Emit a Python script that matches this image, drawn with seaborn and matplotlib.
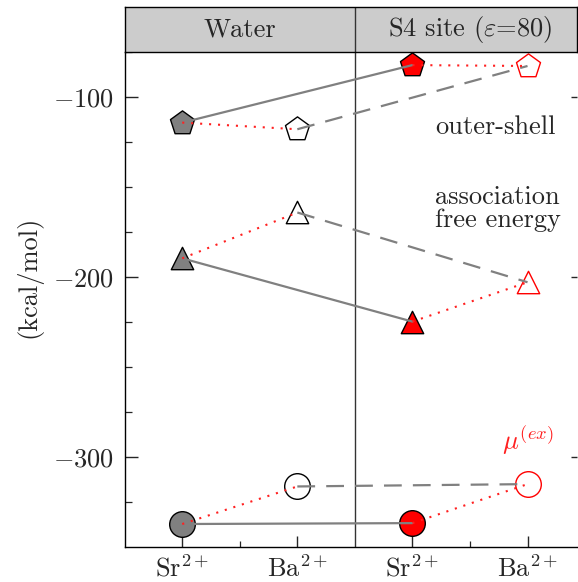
import matplotlib
matplotlib.use("Agg")
import matplotlib.pyplot as plt
import seaborn as sns
import pandas as pd

# ---- data ----
positions = [0, 1, 2, 3]
categories = [r"Sr$^{2+}$", r"Ba$^{2+}$", r"Sr$^{2+}$", r"Ba$^{2+}$"]
panels = ["Water", r"S4 site ($\varepsilon$=80)"]
panel_centers = [0.5, 2.5]
outer_shell = [-114.1, -117.8, -82.1, -82.6]
association = [-189.6, -164.1, -224.8, -202.9]
mu_ex = [-337.4, -316.5, -336.9, -315.2]
yticks = [-100, -200, -300]
ytick_labels = [r"$-100$", r"$-200$", r"$-300$"]

sns.set_style("ticks")
plt.rcParams["font.family"] = "serif"
plt.rcParams["font.serif"] = ["cmr10", "DejaVu Serif"]
plt.rcParams["mathtext.fontset"] = "cm"
plt.rcParams["axes.formatter.use_mathtext"] = True
plt.rcParams["axes.unicode_minus"] = False

FS = 19
fig = plt.figure(figsize=(5.78, 5.82), dpi=100)
ax = fig.add_axes([0.2157, 0.0607, 0.7826, 0.8494])
hax = fig.add_axes([0.2157, 0.9101, 0.7826, 0.0774])

XL = (-0.5, 3.43)

series = [
    (outer_shell, "p", 330),
    (association, "^", 260),
    (mu_ex, "o", 340),
]
faces = ["gray", "white", "red", "white"]
edges = ["black", "black", "black", "red"]

for vals, mk, size in series:
    for i in range(4):
        sns.scatterplot(x=[positions[i]], y=[vals[i]], marker=mk, s=size,
                        color=faces[i], edgecolor=edges[i], linewidth=1.0,
                        ax=ax, zorder=2, legend=False)
    # solid: Sr water -> Sr S4
    sns.lineplot(x=[positions[0], positions[2]], y=[vals[0], vals[2]], color="gray",
                 linewidth=1.6, ax=ax, zorder=3, sort=False)
    # dashed: Ba water -> Ba S4
    sns.lineplot(x=[positions[1], positions[3]], y=[vals[1], vals[3]], color="gray",
                 linewidth=1.6, linestyle=(0, (8, 5)), ax=ax, zorder=3, sort=False)
    # dotted red within panels
    sns.lineplot(x=[positions[0], positions[1]], y=[vals[0], vals[1]], color="#ff2020",
                 linewidth=1.5, linestyle=(0, (1, 3.3)), ax=ax, zorder=3, sort=False)
    sns.lineplot(x=[positions[2], positions[3]], y=[vals[2], vals[3]], color="#ff2020",
                 linewidth=1.5, linestyle=(0, (1, 3.3)), ax=ax, zorder=3, sort=False)

ax.axvline(1.5, color="#333333", lw=1.0, zorder=1)
ax.set_xlim(*XL)
ax.set_ylim(-350, -75)
ax.set_xlabel("")
ax.set_ylabel("(kcal/mol)", fontsize=FS)
ax.yaxis.set_label_coords(-0.183, 0.545)

ax.set_xticks(positions)
ax.set_xticklabels(categories, fontsize=FS)
ax.set_xticks([0.5, 2.5], minor=True)
ax.set_yticks(yticks)
ax.set_yticklabels(ytick_labels, fontsize=FS)
ax.set_yticks([-325, -275, -250, -225, -175, -150, -125, -75], minor=True)

ax.tick_params(axis="y", which="major", direction="in", length=9.4, width=1.0, pad=8, left=True, right=False)
ax.tick_params(axis="y", which="minor", direction="in", length=5, width=0.9, left=True, right=False)
ax.tick_params(axis="x", which="major", direction="in", length=8, width=1.0, pad=6, top=False)
ax.tick_params(axis="x", which="minor", direction="in", length=4.3, width=0.9, top=False)

for s in ["top", "right"]:
    ax.spines[s].set_visible(False)
for s in ["left", "bottom"]:
    ax.spines[s].set_linewidth(1.0)
    ax.spines[s].set_color("black")

# right-side ticks only (no spine)
rax = ax.twinx()
rax.set_ylim(ax.get_ylim())
rax.set_yticks(yticks)
rax.set_yticklabels([])
rax.tick_params(axis="y", which="major", direction="in", length=4, width=1.0)
for s in rax.spines.values():
    s.set_visible(False)

# annotations
ax.text(2.2, -116.7, "outer-shell", fontsize=FS, ha="left", va="center")
ax.text(2.2, -162, "association\nfree energy", fontsize=FS, ha="left", va="center",
        linespacing=0.95)
ax.text(3.0, -291, r"$\mu^{(ex)}$", fontsize=FS, color="#ff2020", ha="center", va="center")

# header
hax.set_xlim(*XL)
hax.set_ylim(0, 1)
hax.set_facecolor("#cccccc")
hax.set_xticks([])
hax.set_yticks([])
for s in hax.spines.values():
    s.set_linewidth(1.0)
    s.set_color("black")
hax.axvline(1.5, color="#333333", lw=1.0)
for name, cx in zip(panels, panel_centers):
    hax.text(cx, 0.5, name, fontsize=FS, ha="center", va="center")

fig.savefig("out.png", dpi=100)
